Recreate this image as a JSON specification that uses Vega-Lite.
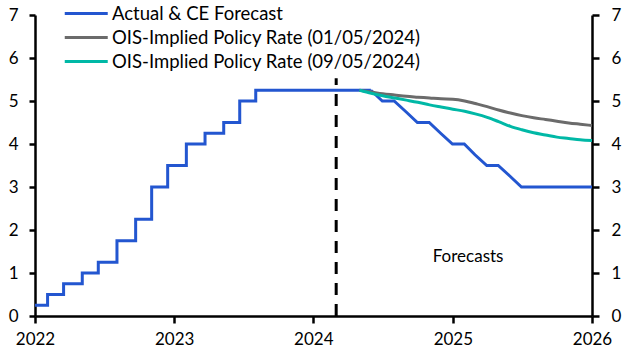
{
  "$schema": "https://vega.github.io/schema/vega-lite/v6.json",
  "width": 557,
  "height": 301,
  "autosize": {"type": "none"},
  "padding": {"left": 35, "top": 15, "right": 35, "bottom": 39},
  "background": "white",
  "config": {
    "view": {"stroke": null},
    "font": "Lato",
    "axis": {"grid": false, "domainColor": "black", "domainWidth": 2.5, "tickColor": "black", "tickWidth": 2.5, "labelFont": "Lato", "labelFontSize": 17, "labelColor": "black"}
  },
  "datasets": {
    "actual": [
      {"date": "2022-01-01", "value": 0.25, "series": "Actual & CE Forecast"},
      {"date": "2022-02-03", "value": 0.5, "series": "Actual & CE Forecast"},
      {"date": "2022-03-17", "value": 0.75, "series": "Actual & CE Forecast"},
      {"date": "2022-05-05", "value": 1.0, "series": "Actual & CE Forecast"},
      {"date": "2022-06-16", "value": 1.25, "series": "Actual & CE Forecast"},
      {"date": "2022-08-04", "value": 1.75, "series": "Actual & CE Forecast"},
      {"date": "2022-09-22", "value": 2.25, "series": "Actual & CE Forecast"},
      {"date": "2022-11-03", "value": 3.0, "series": "Actual & CE Forecast"},
      {"date": "2022-12-15", "value": 3.5, "series": "Actual & CE Forecast"},
      {"date": "2023-02-02", "value": 4.0, "series": "Actual & CE Forecast"},
      {"date": "2023-03-23", "value": 4.25, "series": "Actual & CE Forecast"},
      {"date": "2023-05-11", "value": 4.5, "series": "Actual & CE Forecast"},
      {"date": "2023-06-22", "value": 5.0, "series": "Actual & CE Forecast"},
      {"date": "2023-08-03", "value": 5.25, "series": "Actual & CE Forecast"},
      {"date": "2024-05-31", "value": 5.25, "series": "Actual & CE Forecast"}
    ],
    "forecast": [
      {"date": "2024-05-31", "value": 5.25, "series": "Actual & CE Forecast"},
      {"date": "2024-06-30", "value": 5.0, "series": "Actual & CE Forecast"},
      {"date": "2024-07-31", "value": 5.0, "series": "Actual & CE Forecast"},
      {"date": "2024-08-31", "value": 4.75, "series": "Actual & CE Forecast"},
      {"date": "2024-09-30", "value": 4.5, "series": "Actual & CE Forecast"},
      {"date": "2024-10-31", "value": 4.5, "series": "Actual & CE Forecast"},
      {"date": "2024-11-30", "value": 4.25, "series": "Actual & CE Forecast"},
      {"date": "2024-12-31", "value": 4.0, "series": "Actual & CE Forecast"},
      {"date": "2025-01-31", "value": 4.0, "series": "Actual & CE Forecast"},
      {"date": "2025-02-28", "value": 3.75, "series": "Actual & CE Forecast"},
      {"date": "2025-03-31", "value": 3.5, "series": "Actual & CE Forecast"},
      {"date": "2025-04-30", "value": 3.5, "series": "Actual & CE Forecast"},
      {"date": "2025-05-31", "value": 3.25, "series": "Actual & CE Forecast"},
      {"date": "2025-06-30", "value": 3.0, "series": "Actual & CE Forecast"},
      {"date": "2026-01-01", "value": 3.0, "series": "Actual & CE Forecast"}
    ],
    "ois": [
      {"date": "2024-05-01", "value": 5.25, "series": "OIS-Implied Policy Rate (01/05/2024)"},
      {"date": "2024-06-01", "value": 5.21, "series": "OIS-Implied Policy Rate (01/05/2024)"},
      {"date": "2024-07-01", "value": 5.17, "series": "OIS-Implied Policy Rate (01/05/2024)"},
      {"date": "2024-08-01", "value": 5.14, "series": "OIS-Implied Policy Rate (01/05/2024)"},
      {"date": "2024-09-01", "value": 5.11, "series": "OIS-Implied Policy Rate (01/05/2024)"},
      {"date": "2024-10-01", "value": 5.09, "series": "OIS-Implied Policy Rate (01/05/2024)"},
      {"date": "2024-11-01", "value": 5.07, "series": "OIS-Implied Policy Rate (01/05/2024)"},
      {"date": "2024-12-01", "value": 5.05, "series": "OIS-Implied Policy Rate (01/05/2024)"},
      {"date": "2025-01-01", "value": 5.04, "series": "OIS-Implied Policy Rate (01/05/2024)"},
      {"date": "2025-02-01", "value": 5.0, "series": "OIS-Implied Policy Rate (01/05/2024)"},
      {"date": "2025-03-01", "value": 4.94, "series": "OIS-Implied Policy Rate (01/05/2024)"},
      {"date": "2025-04-01", "value": 4.87, "series": "OIS-Implied Policy Rate (01/05/2024)"},
      {"date": "2025-05-01", "value": 4.79, "series": "OIS-Implied Policy Rate (01/05/2024)"},
      {"date": "2025-06-01", "value": 4.72, "series": "OIS-Implied Policy Rate (01/05/2024)"},
      {"date": "2025-07-01", "value": 4.66, "series": "OIS-Implied Policy Rate (01/05/2024)"},
      {"date": "2025-08-01", "value": 4.61, "series": "OIS-Implied Policy Rate (01/05/2024)"},
      {"date": "2025-09-01", "value": 4.57, "series": "OIS-Implied Policy Rate (01/05/2024)"},
      {"date": "2025-10-01", "value": 4.53, "series": "OIS-Implied Policy Rate (01/05/2024)"},
      {"date": "2025-11-01", "value": 4.49, "series": "OIS-Implied Policy Rate (01/05/2024)"},
      {"date": "2025-12-01", "value": 4.46, "series": "OIS-Implied Policy Rate (01/05/2024)"},
      {"date": "2026-01-01", "value": 4.43, "series": "OIS-Implied Policy Rate (01/05/2024)"},
      {"date": "2024-05-01", "value": 5.25, "series": "OIS-Implied Policy Rate (09/05/2024)"},
      {"date": "2024-06-01", "value": 5.18, "series": "OIS-Implied Policy Rate (09/05/2024)"},
      {"date": "2024-07-01", "value": 5.12, "series": "OIS-Implied Policy Rate (09/05/2024)"},
      {"date": "2024-08-01", "value": 5.07, "series": "OIS-Implied Policy Rate (09/05/2024)"},
      {"date": "2024-09-01", "value": 5.02, "series": "OIS-Implied Policy Rate (09/05/2024)"},
      {"date": "2024-10-01", "value": 4.97, "series": "OIS-Implied Policy Rate (09/05/2024)"},
      {"date": "2024-11-01", "value": 4.91, "series": "OIS-Implied Policy Rate (09/05/2024)"},
      {"date": "2024-12-01", "value": 4.86, "series": "OIS-Implied Policy Rate (09/05/2024)"},
      {"date": "2025-01-01", "value": 4.81, "series": "OIS-Implied Policy Rate (09/05/2024)"},
      {"date": "2025-02-01", "value": 4.76, "series": "OIS-Implied Policy Rate (09/05/2024)"},
      {"date": "2025-03-01", "value": 4.7, "series": "OIS-Implied Policy Rate (09/05/2024)"},
      {"date": "2025-04-01", "value": 4.62, "series": "OIS-Implied Policy Rate (09/05/2024)"},
      {"date": "2025-05-01", "value": 4.52, "series": "OIS-Implied Policy Rate (09/05/2024)"},
      {"date": "2025-06-01", "value": 4.41, "series": "OIS-Implied Policy Rate (09/05/2024)"},
      {"date": "2025-07-01", "value": 4.33, "series": "OIS-Implied Policy Rate (09/05/2024)"},
      {"date": "2025-08-01", "value": 4.26, "series": "OIS-Implied Policy Rate (09/05/2024)"},
      {"date": "2025-09-01", "value": 4.21, "series": "OIS-Implied Policy Rate (09/05/2024)"},
      {"date": "2025-10-01", "value": 4.16, "series": "OIS-Implied Policy Rate (09/05/2024)"},
      {"date": "2025-11-01", "value": 4.13, "series": "OIS-Implied Policy Rate (09/05/2024)"},
      {"date": "2025-12-01", "value": 4.1, "series": "OIS-Implied Policy Rate (09/05/2024)"},
      {"date": "2026-01-01", "value": 4.08, "series": "OIS-Implied Policy Rate (09/05/2024)"}
    ],
    "marker": [{"date": "2024-03-01", "low": 0, "high": 5.53}],
    "note": [{"date": "2025-02-10", "value": 1.37, "label": "Forecasts"}]
  },
  "resolve": {"axis": {"y": "independent"}},
  "layer": [
    {
      "data": {"name": "marker"},
      "mark": {"type": "rule", "color": "black", "strokeWidth": 3, "strokeDash": [12, 9]},
      "encoding": {
        "x": {"field": "date", "type": "temporal", "scale": {"domain": ["2022-01-01", "2026-01-01"]}, "axis": {"format": "%Y", "tickCount": {"interval": "year", "step": 1}, "labelPadding": 8, "tickSize": 7, "title": null, "labelFlush": false}},
        "y": {"field": "low", "type": "quantitative", "scale": {"domain": [0, 7]}, "axis": {"orient": "left", "values": [0,1,2,3,4,5,6,7], "tickSize": 6, "labelPadding": 11, "title": null}},
        "y2": {"field": "high"}
      }
    },
    {
      "layer": [
        {
          "data": {"name": "actual"},
          "mark": {"type": "line", "interpolate": "step-after", "strokeWidth": 3},
          "encoding": {
            "x": {"field": "date", "type": "temporal", "axis": {"title": null}},
            "y": {"field": "value", "type": "quantitative", "axis": null},
            "color": {"field": "series", "type": "nominal"}
          }
        },
        {
          "data": {"name": "forecast"},
          "mark": {"type": "line", "strokeWidth": 3},
          "encoding": {
            "x": {"field": "date", "type": "temporal", "axis": {"title": null}},
            "y": {"field": "value", "type": "quantitative", "axis": null},
            "color": {"field": "series", "type": "nominal"}
          }
        },
        {
          "data": {"name": "ois"},
          "mark": {"type": "line", "interpolate": "monotone", "strokeWidth": 3},
          "encoding": {
            "x": {"field": "date", "type": "temporal", "axis": {"title": null}},
            "y": {"field": "value", "type": "quantitative", "axis": null},
            "color": {
              "field": "series", "type": "nominal",
              "scale": {"domain": ["Actual & CE Forecast", "OIS-Implied Policy Rate (01/05/2024)", "OIS-Implied Policy Rate (09/05/2024)"], "range": ["#2356d0", "#6b6b6b", "#00b8a6"]},
              "legend": {"orient": "none", "legendX": 28, "legendY": -14, "title": null, "symbolType": "M-1,0H3", "symbolSize": 462, "symbolStrokeWidth": 3, "labelFont": "Lato", "labelFontSize": 18.5, "labelColor": "black", "rowPadding": 2, "labelOffset": 24, "labelLimit": 400}
            }
          }
        }
      ]
    },
    {
      "data": {"name": "note"},
      "mark": {"type": "text", "font": "Lato", "fontSize": 17, "color": "black", "baseline": "middle", "align": "center"},
      "encoding": {
        "x": {"field": "date", "type": "temporal", "axis": {"title": null}},
        "y": {"field": "value", "type": "quantitative", "axis": {"orient": "right", "values": [0,1,2,3,4,5,6,7], "tickSize": 7, "labelPadding": 12, "title": null}},
        "text": {"field": "label"}
      }
    }
  ]
}
